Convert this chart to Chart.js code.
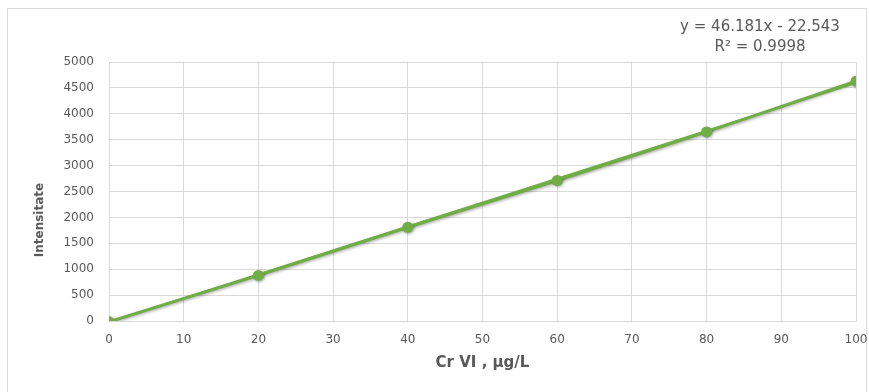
<!DOCTYPE html>
<html>
<head>
<meta charset="utf-8">
<script src="https://cdn.jsdelivr.net/npm/chart.js@4/dist/chart.umd.min.js"></script>
<style>
  html, body { margin: 0; padding: 0; background: #fff; overflow: hidden; }
  #frame { position: absolute; left: 7px; top: 8px; width: 858px; height: 400px; border: 1px solid #d9d9d9; }
  #calib { position: absolute; left: 0; top: 0; }
</style>
</head>
<body>
<div id="frame"></div>
<canvas id="calib" width="869" height="392"></canvas>
<script>
// Cr VI calibration curve
const concentrations = [0, 20, 40, 60, 80, 100];
const intensities = [-15, 880, 1810, 2710, 3650, 4630];

const xTicks = [0, 10, 20, 30, 40, 50, 60, 70, 80, 90, 100];
const yTicks = [0, 500, 1000, 1500, 2000, 2500, 3000, 3500, 4000, 4500, 5000];

// Excel linear trendline as printed on the chart
const trendSlope = 46.181;
const trendIntercept = -22.543;
const trendLabel = 'y = 46.181x - 22.543';
const r2Label = 'R\u00b2 = 0.9998';

const textGray = '#595959';
const gridGray = '#d9d9d9';
const green = '#70ad47';

const trendPoints = [xTicks[0], xTicks[xTicks.length - 1]].map(x => ({ x: x, y: trendSlope * x + trendIntercept }));
const dataPoints = concentrations.map((c, i) => ({ x: c, y: intensities[i] }));

// equation + rotated y title drawn by hand
const extraText = {
    id: 'extraText',
    afterDraw(chart) {
        const ctx = chart.ctx;
        ctx.save();
        ctx.fillStyle = textGray;
        ctx.textAlign = 'center';
        ctx.textBaseline = 'middle';
        ctx.font = '15px "DejaVu Sans"';
        ctx.fillText(trendLabel, 760, 27);
        ctx.fillText(r2Label, 760, 47);

        ctx.translate(40, 220);
        ctx.rotate(-Math.PI / 2);
        ctx.font = 'bold 12px "DejaVu Sans"';
        ctx.fillText('Intensitate', 0, 0);
        ctx.restore();
    }
};

// soft shadow under the measured series, like Excel
const markerShadow = {
    id: 'markerShadow',
    beforeDatasetDraw(chart, args) {
        if (args.index !== 1) return;
        const ctx = chart.ctx;
        ctx.save();
        ctx.shadowColor = 'rgba(0,0,0,0.35)';
        ctx.shadowBlur = 3;
        ctx.shadowOffsetX = 1;
        ctx.shadowOffsetY = 1;
    },
    afterDatasetDraw(chart, args) {
        if (args.index !== 1) return;
        chart.ctx.restore();
    }
};

new Chart(document.getElementById('calib'), {
    type: 'scatter',
    data: {
        datasets: [
            {
                label: 'Trendline',
                data: trendPoints,
                showLine: true,
                borderColor: green,
                borderWidth: 2,
                pointRadius: 0
            },
            {
                label: 'Intensitate',
                data: dataPoints,
                showLine: true,
                borderColor: green,
                borderWidth: 3,
                backgroundColor: green,
                pointBackgroundColor: green,
                pointBorderColor: green,
                pointRadius: 5.5,
                pointBorderWidth: 0
            }
        ]
    },
    options: {
        responsive: false,
        animation: false,
        layout: { padding: { top: 62, right: 13, left: 0, bottom: 0 } },
        plugins: {
            legend: { display: false },
            tooltip: { enabled: false }
        },
        scales: {
            x: {
                type: 'linear',
                min: 0,
                max: 100,
                afterBuildTicks: axis => { axis.ticks = xTicks.map(v => ({ value: v })); },
                afterFit: axis => {
                    axis.height = 71;
                    axis.paddingLeft = 0;
                    axis.paddingRight = 0;
                },
                grid: { color: gridGray, drawTicks: false },
                border: { color: gridGray },
                ticks: { color: textGray, padding: 12, font: { family: 'DejaVu Sans', size: 12 } },
                title: {
                    display: true,
                    text: 'Cr VI , \u00b5g/L',
                    color: textGray,
                    font: { family: 'DejaVu Sans', size: 15, weight: 'bold' },
                    padding: { top: 0, bottom: 20 }
                }
            },
            y: {
                type: 'linear',
                min: 0,
                max: 5000,
                afterBuildTicks: axis => { axis.ticks = yTicks.map(v => ({ value: v })); },
                afterFit: axis => {
                    axis.width = 109;
                    axis.paddingTop = 0;
                    axis.paddingBottom = 0;
                },
                grid: { color: gridGray, drawTicks: false },
                border: { color: gridGray },
                ticks: {
                    color: textGray,
                    padding: 15,
                    font: { family: 'DejaVu Sans', size: 12 },
                    callback: value => String(value)
                }
            }
        }
    },
    plugins: [extraText, markerShadow]
});
</script>
</body>
</html>
